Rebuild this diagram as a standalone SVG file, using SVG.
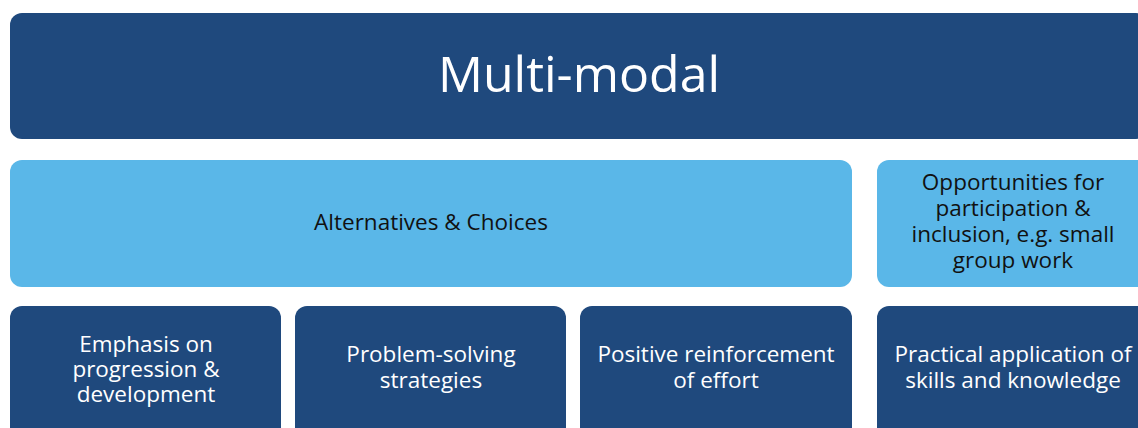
<svg xmlns="http://www.w3.org/2000/svg" width="1138" height="428" viewBox="0 0 1138 428">
<style>
.dark{fill:#1f497d}
.light{fill:#5ab7e8}
text{font-family:"Open Sans","Liberation Sans",sans-serif;text-anchor:middle}
.w{fill:#ffffff;font-size:22.5px}
.k{fill:#111111;font-size:22.5px}
.title{fill:#ffffff;font-size:50px}
</style>
<rect width="1138" height="428" fill="#ffffff"/>
<g id="multi-modal">
<rect class="dark" x="10" y="13" width="1138" height="126" rx="12"/>
<text class="title" x="579" y="92">Multi-modal</text>
</g>
<g id="alternatives">
<rect class="light" x="10" y="160" width="842" height="127" rx="12"/>
<text class="k" x="431" y="230">Alternatives &amp; Choices</text>
</g>
<g id="opportunities">
<rect class="light" x="877" y="160" width="272" height="127" rx="12"/>
<text class="k" x="1013" y="190">Opportunities for</text>
<text class="k" x="1013" y="216">participation &amp;</text>
<text class="k" x="1013" y="242">inclusion, e.g. small</text>
<text class="k" x="1013" y="268">group work</text>
</g>
<g id="emphasis">
<rect class="dark" x="10" y="306" width="271" height="140" rx="12"/>
<text class="w" x="146" y="352">Emphasis on</text>
<text class="w" x="146" y="377">progression &amp;</text>
<text class="w" x="146" y="402">development</text>
</g>
<g id="problem-solving">
<rect class="dark" x="295" y="306" width="271" height="140" rx="12"/>
<text class="w" x="431" y="362">Problem-solving</text>
<text class="w" x="431" y="388">strategies</text>
</g>
<g id="positive">
<rect class="dark" x="580" y="306" width="272" height="140" rx="12"/>
<text class="w" x="716" y="362">Positive reinforcement</text>
<text class="w" x="716" y="388">of effort</text>
</g>
<g id="practical">
<rect class="dark" x="877" y="306" width="272" height="140" rx="12"/>
<text class="w" x="1013" y="362">Practical application of</text>
<text class="w" x="1013" y="388">skills and knowledge</text>
</g>
<g id="connectors"></g>
</svg>
